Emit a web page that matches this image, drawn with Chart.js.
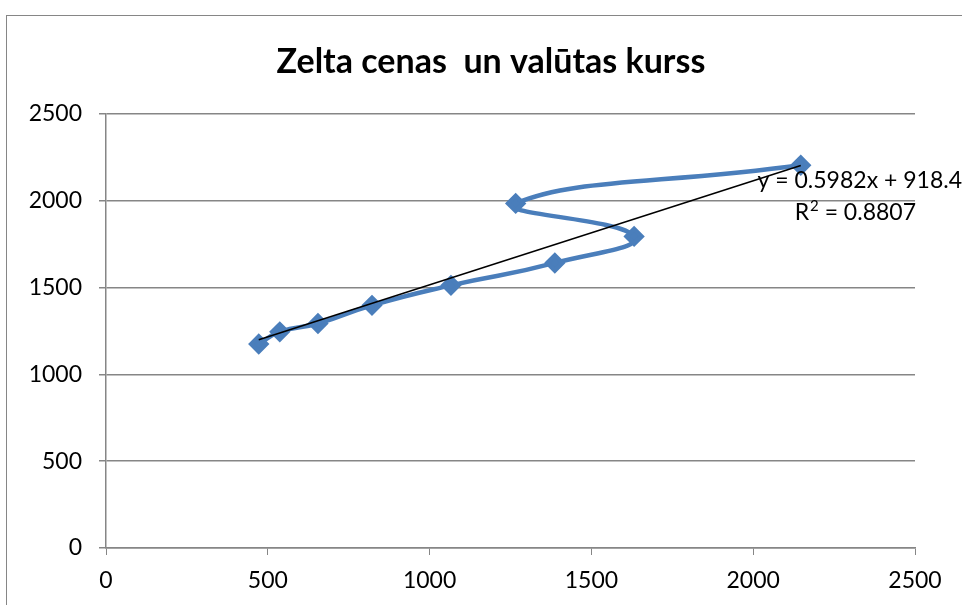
<!DOCTYPE html>
<html>
<head>
<meta charset="utf-8">
<script src="https://cdn.jsdelivr.net/npm/chart.js@4/dist/chart.umd.min.js"></script>
<style>
  html, body { margin: 0; padding: 0; background: #fff; }
  #wrap { width: 962px; height: 605px; }
</style>
</head>
<body>
<div id="wrap"><canvas id="goldChart" width="962" height="605"></canvas></div>
<script>
const titleText = "Zelta cenas  un valūtas kurss";
const xValues = [472, 537, 655, 822, 1066, 1387, 1632, 1266, 2147];
const yValues = [1175, 1245, 1293, 1398, 1513, 1642, 1795, 1985, 2205];
const trendX = [472, 2147];
const trendY = [1200, 2203];
const equationText = "y = 0.5982x + 918.4";
const rSquaredText = " = 0.8807";

const FONT = "Lato, 'Open Sans', sans-serif";
const gray = "#868686";
const blue = "#4a7ebb";

// title, outer border and trendline equation
const decorations = {
  id: "decorations",
  afterDraw(chart) {
    const ctx = chart.ctx;
    ctx.save();
    ctx.strokeStyle = gray;
    ctx.lineWidth = 1;
    ctx.strokeRect(6.5, 15.5, 1200, 1200);

    ctx.fillStyle = "#000";
    ctx.font = "bold 34px " + FONT;
    ctx.textAlign = "center";
    ctx.textBaseline = "middle";
    ctx.fillText(titleText, 491, 62);

    ctx.font = "23px " + FONT;
    ctx.textAlign = "right";
    ctx.fillText(equationText, 962, 181);

    // R² line: "R" + raised "2" + rest
    const right = 916;
    const restW = ctx.measureText(rSquaredText).width;
    ctx.fillText(rSquaredText, right, 213);
    ctx.font = "15px " + FONT;
    const supW = ctx.measureText("2").width;
    ctx.fillText("2", right - restW, 206);
    ctx.font = "23px " + FONT;
    ctx.fillText("R", right - restW - supW - 1, 213);
    ctx.restore();
  }
};

new Chart(document.getElementById("goldChart"), {
  type: "scatter",
  data: {
    datasets: [
      {
        label: "data",
        data: xValues.map((x, i) => ({ x: x, y: yValues[i] })),
        showLine: true,
        tension: 0.5,
        borderColor: blue,
        backgroundColor: blue,
        borderWidth: 4.5,
        pointStyle: "rectRot",
        pointRadius: 7.5,
        order: 2
      },
      {
        label: "trend",
        data: trendX.map((x, i) => ({ x: x, y: trendY[i] })),
        showLine: true,
        borderColor: "#000",
        borderWidth: 1.5,
        pointRadius: 0,
        order: 1
      }
    ]
  },
  options: {
    responsive: false,
    animation: false,
    layout: { padding: { top: 114, right: 47, left: 0, bottom: 0 } },
    plugins: {
      legend: { display: false },
      tooltip: { enabled: false },
      title: { display: false }
    },
    scales: {
      x: {
        type: "linear",
        min: 0,
        max: 2500,
        ticks: {
          stepSize: 500, color: "#000", font: { family: FONT, size: 23 }, padding: 12,
          callback: v => String(v)
        },
        grid: { drawOnChartArea: false, drawTicks: true, tickLength: 7, color: gray },
        border: { color: gray, width: 1.5 },
        afterFit(scale) { scale.height = 57; }
      },
      y: {
        type: "linear",
        min: 0,
        max: 2500,
        ticks: {
          stepSize: 500, color: "#000", font: { family: FONT, size: 23 }, padding: 17,
          callback: v => String(v)
        },
        grid: { color: gray, lineWidth: 1.5, tickLength: 7 },
        border: { color: gray, width: 1.5 },
        afterFit(scale) { scale.width = 106; }
      }
    }
  },
  plugins: [decorations]
});
</script>
</body>
</html>
